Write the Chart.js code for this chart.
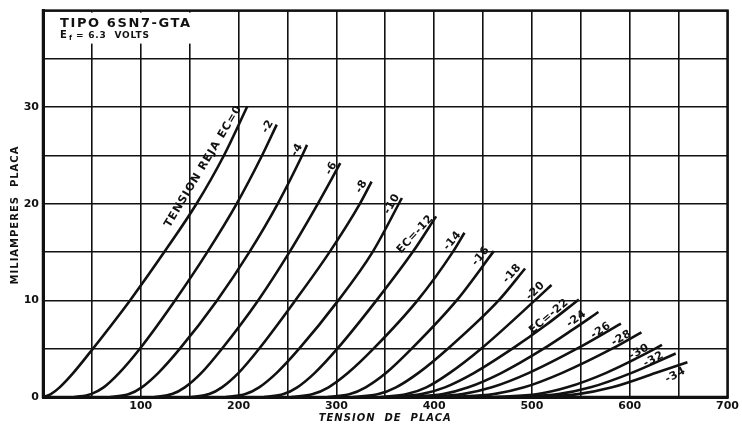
<!DOCTYPE html>
<html>
<head>
<meta charset="utf-8">
<script src="https://cdn.jsdelivr.net/npm/chart.js@4.4.1/dist/chart.umd.min.js"></script>
<style>
  html, body { margin: 0; padding: 0; background: #fff; }
  #wrap { width: 742px; height: 425px; }
</style>
</head>
<body>
<div id="wrap"><canvas id="plateChart" width="742" height="425"></canvas></div>
<script>
// --- 6SN7-GTA plate characteristics (Ip vs Ep, one curve per grid bias) ---

const gridBias = [0, -2, -4, -6, -8, -10, -12, -14, -16, -18, -20, -22, -24, -26, -28, -30, -32, -34];

// [plate volts, plate mA]
const ec0  = [[0, 0], [8, 0.3], [17, 1], [31, 2.5], [51, 5], [89, 10], [124, 15], [157, 20], [185, 25], [209, 30.1]];
const ec2  = [[32, 0], [49, 0.3], [62, 1], [78, 2.5], [99, 5], [135, 10], [168, 15], [198, 20], [224, 25], [239, 28.2]];
const ec4  = [[69, 0], [88, 0.3], [101, 1], [118, 2.5], [140, 5], [178, 10], [211, 15], [240, 20], [265, 25], [270, 26.1]];
const ec6  = [[114, 0], [132, 0.3], [145, 1], [162, 2.5], [183, 5], [220, 10], [252, 15], [281, 20], [304, 24.2]];
const ec8  = [[152, 0], [170, 0.3], [183, 1], [200, 2.5], [221, 5], [258, 10], [293, 15], [324, 20], [336, 22.3]];
const ec10 = [[187, 0], [207, 0.3], [221, 1], [239, 2.5], [262, 5], [302, 10], [337, 15], [367, 20.6]];
const ec12 = [[226, 0], [246, 0.3], [260, 1], [278, 2.5], [301, 5], [341, 10], [378, 15], [402, 18.7]];
const ec14 = [[254, 0], [276, 0.3], [292, 1], [312, 2.5], [338, 5], [383, 10], [419, 15], [431, 17]];
const ec16 = [[291, 0], [314, 0.3], [330, 1], [351, 2.5], [377, 5], [423, 10], [461, 15.1]];
const ec18 = [[317, 0], [343, 0.3], [361, 1], [384, 2.5], [414, 5], [466, 10], [493, 13.3]];
const ec20 = [[345, 0], [372, 0.3], [392, 1], [416, 2.5], [448, 5], [503, 10], [520, 11.6]];
const ec22 = [[353, 0], [387, 0.3], [411, 1], [441, 2.5], [480, 5], [515, 7.5], [548, 10.1]];
const ec24 = [[371, 0], [409, 0.3], [435, 1], [469, 2.5], [512, 5], [542, 7], [568, 8.8]];
const ec26 = [[387, 0], [429, 0.3], [459, 1], [497, 2.5], [546, 5], [591, 7.6]];
const ec28 = [[417, 0], [461, 0.3], [492, 1], [531, 2.5], [582, 5], [612, 6.7]];
const ec30 = [[462, 0], [506, 0.3], [536, 1], [576, 2.5], [626, 5], [633, 5.4]];
const ec32 = [[479, 0], [527, 0.3], [560, 1], [602, 2.5], [647, 4.5]];
const ec34 = [[497, 0], [547, 0.3], [582, 1], [627, 2.5], [659, 3.6]];

const curves = [ec0, ec2, ec4, ec6, ec8, ec10, ec12, ec14, ec16, ec18, ec20, ec22, ec24, ec26, ec28, ec30, ec32, ec34];
const curveLabels = ['TENSION REJA EC=0', '-2', '-4', '-6', '-8', '-10', 'EC=-12', '-14', '-16', '-18', '-20',
                     'EC=-22', '-24', '-26', '-28', '-30', '-32', '-34'];

const xTicks = [100, 200, 300, 400, 500, 600, 700];
const yTicks = [0, 10, 20, 30];

// label placement relative to the top end of each curve (pixels, degrees)
const labelPlace = [
    { dx: -44, dy: 60, rot: -59 }, { dx: -9, dy: 2, rot: -60 }, { dx: -10, dy: 5, rot: -60 },
    { dx: -9, dy: 5, rot: -60 },   { dx: -10, dy: 5, rot: -60 }, { dx: -10, dy: 6, rot: -60 },
    { dx: -21, dy: 18, rot: -47 }, { dx: -12, dy: 8, rot: -50 }, { dx: -13, dy: 5, rot: -50 },
    { dx: -13, dy: 5, rot: -48 },  { dx: -16, dy: 6, rot: -44 }, { dx: -30, dy: 17, rot: -40 },
    { dx: -22, dy: 7, rot: -36 },  { dx: -20, dy: 7, rot: -33 }, { dx: -20, dy: 6, rot: -30 },
    { dx: -23, dy: 7, rot: -28 },  { dx: -22, dy: 6, rot: -28 }, { dx: -12, dy: 13, rot: -28 }
];

const INK = '#111';
const FONT = "'DejaVu Sans', 'Liberation Sans', sans-serif";

const sheetPlugin = {
    id: 'sheet',
    beforeDatasetsDraw(chart) {
        const { ctx, chartArea: a } = chart;
        ctx.save();
        // blank header block in the top-left cell row
        ctx.fillStyle = '#fff';
        ctx.fillRect(a.left + 2, a.top + 2, 190, 31);
        ctx.fillStyle = INK;
        ctx.textBaseline = 'alphabetic';
        ctx.letterSpacing = '1.6px';
        ctx.font = 'bold 13px ' + FONT;
        ctx.fillText('TIPO 6SN7-GTA', 60, 27);
        ctx.letterSpacing = '0.8px';
        ctx.font = 'bold 10px ' + FONT;
        ctx.fillText('E', 60, 38);
        ctx.font = 'bold 7px ' + FONT;
        ctx.fillText('f', 69, 40);
        ctx.font = 'bold 9px ' + FONT;
        ctx.fillText('= 6.3  VOLTS', 76, 38);
        // frame
        ctx.strokeStyle = INK;
        ctx.lineWidth = 2.5;
        ctx.strokeRect(a.left, a.top, a.right - a.left, a.bottom - a.top);
        ctx.restore();
    },
    afterDatasetsDraw(chart) {
        const { ctx } = chart;
        const xs = chart.scales.x, ys = chart.scales.y;
        ctx.save();
        ctx.fillStyle = INK;
        ctx.textAlign = 'center';
        ctx.textBaseline = 'middle';
        curves.forEach((pts, i) => {
            const top = pts[pts.length - 1];
            const p = labelPlace[i];
            const px = xs.getPixelForValue(top[0]) + p.dx;
            const py = ys.getPixelForValue(top[1]) + p.dy;
            ctx.save();
            ctx.translate(px, py);
            ctx.rotate(p.rot * Math.PI / 180);
            ctx.font = 'bold 11px ' + FONT;
            ctx.letterSpacing = i === 0 ? '1px' : '0.5px';
            ctx.fillText(curveLabels[i], 0, 0);
            ctx.restore();
        });
        ctx.restore();
    },
    afterDraw(chart) {
        const { ctx, chartArea: a } = chart;
        ctx.save();
        ctx.fillStyle = INK;
        ctx.textAlign = 'center';
        ctx.textBaseline = 'middle';
        ctx.letterSpacing = '1px';
        ctx.font = 'italic bold 10px ' + FONT;
        ctx.fillText('TENSION  DE  PLACA', (a.left + a.right) / 2, 418);
        ctx.translate(15, 215);
        ctx.rotate(-Math.PI / 2);
        ctx.font = 'bold 10px ' + FONT;
        ctx.fillText('MILIAMPERES  PLACA', 0, 0);
        ctx.restore();
    }
};

const datasets = curves.map((pts, i) => ({
    label: 'Ec=' + gridBias[i],
    data: pts.map(p => ({ x: p[0], y: p[1] })),
    showLine: true,
    borderColor: INK,
    borderWidth: 2.6,
    pointRadius: 0,
    fill: false,
    cubicInterpolationMode: 'monotone'
}));

new Chart(document.getElementById('plateChart'), {
    type: 'scatter',
    data: { datasets },
    options: {
        responsive: false,
        animation: false,
        layout: { padding: { left: 0, right: 14, top: 8, bottom: 0 } },
        plugins: { legend: { display: false }, tooltip: { enabled: false } },
        scales: {
            x: {
                type: 'linear', min: 0, max: 700,
                afterFit: s => { s.height = 28; },
                ticks: {
                    stepSize: 50, autoSkip: false, maxRotation: 0, padding: 3,
                    color: INK, font: { family: FONT, size: 11, weight: 'bold' },
                    callback: v => xTicks.includes(v) ? String(v) : ''
                },
                grid: { color: INK, lineWidth: 1.6, drawTicks: false },
                border: { color: INK, width: 3 }
            },
            y: {
                min: 0, max: 40,
                afterFit: s => { s.width = 43; },
                ticks: {
                    stepSize: 5, autoSkip: false, padding: 4,
                    color: INK, font: { family: FONT, size: 11, weight: 'bold' },
                    callback: v => yTicks.includes(v) ? String(v) : ''
                },
                grid: { color: INK, lineWidth: 1.6, drawTicks: false },
                border: { color: INK, width: 3 }
            }
        }
    },
    plugins: [sheetPlugin]
});
</script>
</body>
</html>
